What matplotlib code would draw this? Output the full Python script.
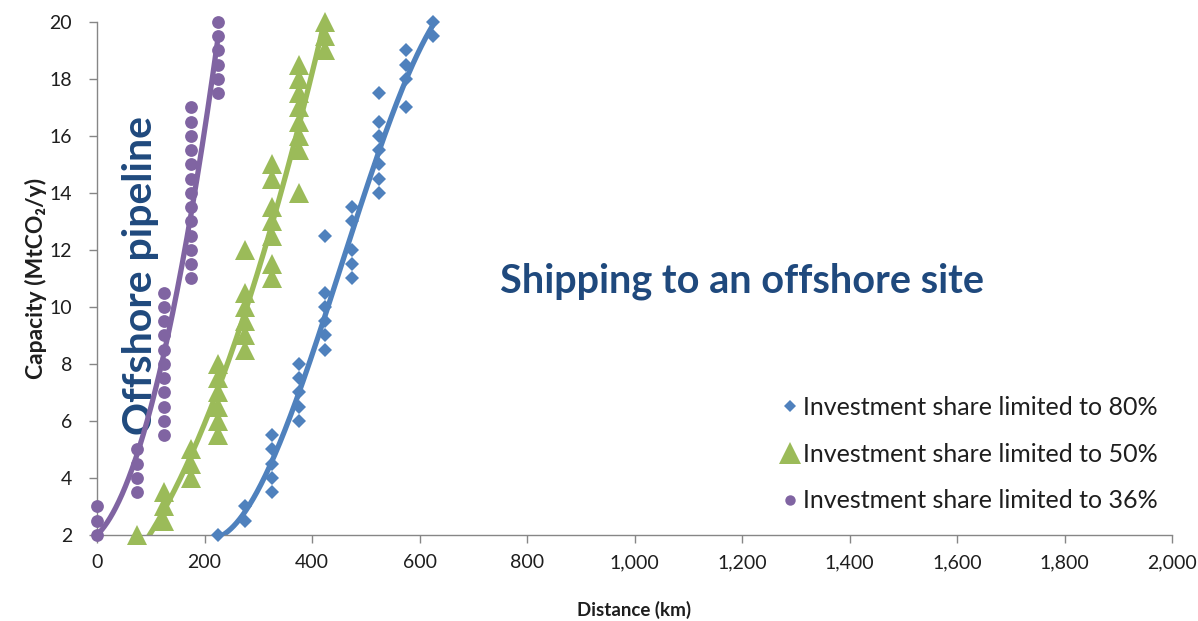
import matplotlib
matplotlib.use("Agg")
import matplotlib.pyplot as plt
from matplotlib.lines import Line2D
from matplotlib.ticker import FuncFormatter, MultipleLocator
import numpy as np

plt.rcParams['font.family'] = ['Lato', 'DejaVu Sans']

# Capacity (MtCO2/y) reached at each distance (km), grouped by distance
share80_dist = [225, 275, 325, 375, 425, 475, 525, 575, 625]
share80_caps = [
    [2.0],
    [2.5, 3.0],
    [3.5, 4.0, 4.5, 5.0, 5.5],
    [6.0, 6.5, 7.0, 7.5, 8.0],
    [8.5, 9.0, 9.5, 10.0, 10.5, 12.5],
    [11.0, 11.5, 12.0, 13.0, 13.5],
    [14.0, 14.5, 15.0, 15.5, 16.0, 16.5, 17.5],
    [17.0, 18.0, 18.5, 19.0],
    [19.5, 20.0],
]

share50_dist = [75, 125, 175, 225, 275, 325, 375, 425]
share50_caps = [
    [2.0],
    [2.5, 3.0, 3.5],
    [4.0, 4.5, 5.0],
    [5.5, 6.0, 6.5, 7.0, 7.5, 8.0],
    [8.5, 9.0, 9.5, 10.0, 10.5, 12.0],
    [11.0, 11.5, 12.5, 13.0, 13.5, 14.5, 15.0],
    [14.0, 15.5, 16.0, 16.5, 17.0, 17.5, 18.0, 18.5],
    [19.0, 19.5, 20.0],
]

share36_dist = [0, 75, 125, 175, 225]
share36_caps = [
    [2.0, 2.5, 3.0],
    [3.5, 4.0, 4.5, 5.0],
    [5.5, 6.0, 6.5, 7.0, 7.5, 8.0, 8.5, 9.0, 9.5, 10.0, 10.5],
    [11.0, 11.5, 12.0, 12.5, 13.0, 13.5, 14.0, 14.5, 15.0, 15.5, 16.0, 16.5, 17.0],
    [17.5, 18.0, 18.5, 19.0, 19.5, 20.0],
]

labels = ["Investment share limited to 80%",
          "Investment share limited to 50%",
          "Investment share limited to 36%"]

BLUE = "#4F81BD"
GREEN = "#9BBB59"
PURPLE = "#8064A2"
NAVY = "#1F497D"
AXIS_GREY = "#868686"
TEXT = "#1E1E1E"


def flatten(dists, caps):
    xs, ys = [], []
    for d, group in zip(dists, caps):
        for c in group:
            xs.append(d)
            ys.append(c)
    return np.array(xs, float), np.array(ys, float)


fig = plt.figure(figsize=(11.98, 6.21), dpi=100)
ax = fig.add_axes([0.081, 0.1385, 0.8973, 0.8261])

series = [
    (share80_dist, share80_caps, BLUE, "D", 7.0, 3),
    (share50_dist, share50_caps, GREEN, "^", 14.5, 2),
    (share36_dist, share36_caps, PURPLE, "o", 9.2, 2),
]

for dists, caps, color, marker, ms, deg in series:
    x, y = flatten(dists, caps)
    # polynomial trend line over the range of the data
    coef = np.polyfit(x, y, deg)
    xf = np.linspace(x.min(), x.max(), 300)
    ax.plot(xf, np.polyval(coef, xf), color=color, lw=3.8,
            solid_capstyle="butt", zorder=2)
    ax.plot(x, y, linestyle="none", marker=marker, ms=ms, color=color,
            markeredgewidth=0, clip_on=False, zorder=3)

ax.set_xlim(0, 2000)
ax.set_ylim(2, 20)
ax.xaxis.set_major_locator(MultipleLocator(200))
ax.yaxis.set_major_locator(MultipleLocator(2))
ax.xaxis.set_major_formatter(FuncFormatter(lambda v, p: f"{int(v):,}"))

for side in ("top", "right"):
    ax.spines[side].set_visible(False)
for side in ("left", "bottom"):
    ax.spines[side].set_color(AXIS_GREY)
    ax.spines[side].set_linewidth(1.0)
ax.tick_params(axis="both", direction="out", length=6, width=1,
               color=AXIS_GREY, labelsize=14, labelcolor=TEXT)
ax.tick_params(axis="x", pad=8)
ax.tick_params(axis="y", pad=12)

ax.set_xlabel("Distance (km)", fontsize=13.5, fontweight="bold",
              color=TEXT, labelpad=21)
ax.set_ylabel("Capacity (MtCO\u2082/y)", fontsize=16.5, fontweight="bold",
              color=TEXT, labelpad=2)

ax.text(80, 11.1, "Offshore pipeline", rotation=90, ha="center",
        va="center", fontsize=29.5, fontweight="bold", color=NAVY, zorder=1)
ax.text(1200, 10.9, "Shipping to an offshore site", ha="center",
        va="center", fontsize=28.5, fontweight="bold", color=NAVY)

handles = [
    Line2D([], [], linestyle="none", marker="D", ms=6, color=BLUE,
           markeredgewidth=0),
    Line2D([], [], linestyle="none", marker="^", ms=15.5, color=GREEN,
           markeredgewidth=0),
    Line2D([], [], linestyle="none", marker="o", ms=7.5, color=PURPLE,
           markeredgewidth=0),
]
leg = ax.legend(handles, labels, loc="upper left",
                bbox_to_anchor=(0.628, 0.2905), frameon=False,
                fontsize=18, handlelength=0.6, handletextpad=0.25,
                labelspacing=0.95, borderaxespad=0)
for t in leg.get_texts():
    t.set_color(TEXT)

fig.savefig("out.png", dpi=100)
